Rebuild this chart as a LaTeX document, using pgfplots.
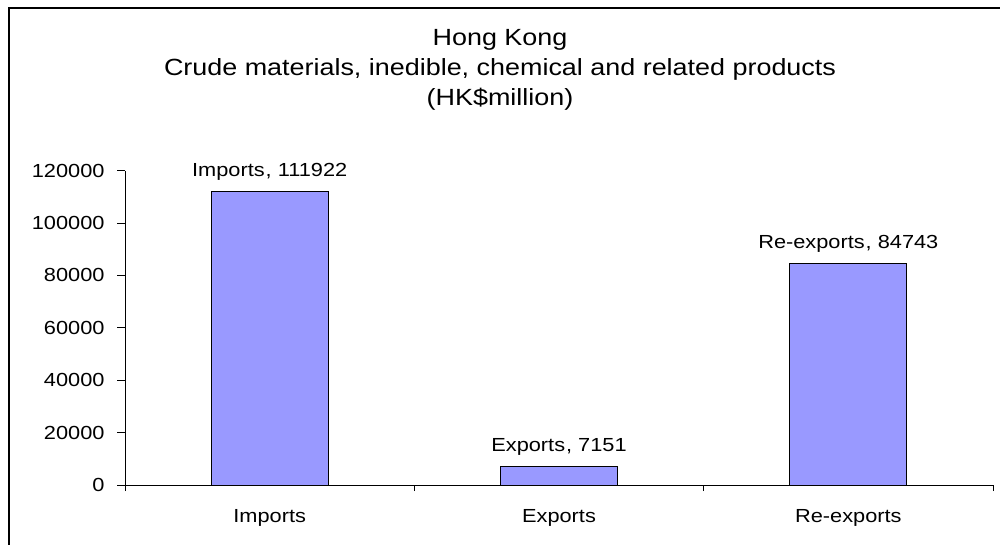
\documentclass[border=0pt]{standalone}
\usepackage{pgfplots}
\pgfplotsset{compat=1.18}
\usepackage{fontspec}
\setmainfont{Liberation Sans}[FakeStretch=1.15]
\definecolor{barblue}{HTML}{9999FF}
\begin{document}
\begin{tikzpicture}[x=1bp,y=1bp]
\useasboundingbox (0,0) rectangle (1000,-545);
\draw[line width=1.5bp] (9,-560) -- (9,-8) -- (1015,-8);
\node[align=center, font=\fontsize{23.5}{30}\selectfont] at (500,-70) {Hong Kong\\Crude materials, inedible, chemical and related products\\(HK\$million)};
\begin{axis}[
  at={(125bp,-485bp)}, anchor=south west,
  scale only axis, width=868bp, height=314.3bp,
  xmin=-0.5, xmax=2.5, ymin=0, ymax=120000,
  axis x line*=bottom, axis y line*=left,
  axis line style={line width=0.8bp, -},
  ytick={0,20000,...,120000},
  scaled y ticks=false,
  yticklabel style={/pgf/number format/fixed, /pgf/number format/1000 sep={}, /pgf/number format/assume math mode=true, xshift=-9bp},
  xtick={0,1,2}, xticklabels={Imports,Exports,Re-exports},
  minor xtick={-0.5,0.5,1.5,2.5},
  tick align=outside,
  major tick length=8bp, minor tick length=6bp,
  x tick style={draw=none},
  minor x tick style={draw=black, line width=0.8bp},
  y tick style={black, line width=0.8bp},
  tick label style={font=\fontsize{19}{22}\selectfont, black},
  xticklabel style={yshift=-13bp},
  ybar, bar width=117bp,
  clip=false,
]
\addplot[fill=barblue, draw=black, line width=0.9bp,
  nodes near coords, point meta=explicit symbolic,
  every node near coord/.style={anchor=base, yshift=15bp, font=\fontsize{19}{22}\selectfont, black}]
  coordinates {(0,111922) [Imports\kern1bp, 111922] (1,7151) [Exports\kern1bp, 7151] (2,84743) [Re-exports\kern1bp, 84743]};
\end{axis}
\end{tikzpicture}
\end{document}
